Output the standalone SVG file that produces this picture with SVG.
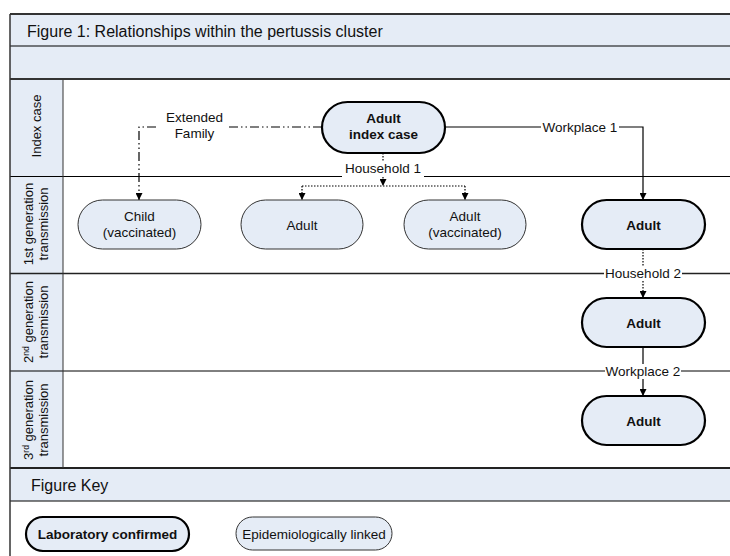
<svg xmlns="http://www.w3.org/2000/svg" width="730" height="556" viewBox="0 0 730 556">
<defs>
<marker id="arr" viewBox="0 0 10 10" refX="10" refY="5" markerWidth="7" markerHeight="7" markerUnits="userSpaceOnUse" orient="auto">
<path d="M0,0 L10,5 L0,10 Z" fill="#000"/>
</marker>
<style>
text{font-family:"Liberation Sans",Arial,sans-serif;fill:#111;}
.band{fill:#E5ECF6;}
.conf rect{fill:#E5ECF6;stroke:#000;stroke-width:2.2;}
.epi rect{fill:#E5ECF6;stroke:#333;stroke-width:1;}
.conf text{font-size:13.5px;font-weight:bold;text-anchor:middle;}
.epi text{font-size:13.5px;text-anchor:middle;}
.lane{font-size:13px;text-anchor:middle;}
.conn{fill:none;stroke:#000;stroke-width:1.2;}
.dot{stroke-dasharray:1.5,1.5;}
.dashdot{stroke-dasharray:9,3,1.5,3,1.5,3;}
.elabel{font-size:13.5px;text-anchor:middle;}
</style>
</defs>
<g id="frame">
<rect class="band" x="10" y="14" width="720" height="65"/>
<rect class="band" x="10" y="79" width="53" height="389"/>
<rect class="band" x="10" y="468" width="720" height="33"/>
<line x1="10" y1="46" x2="730" y2="46" stroke="#000" stroke-width="1"/>
<line x1="10" y1="14" x2="730" y2="14" stroke="#333" stroke-width="2"/>
<line x1="10" y1="79" x2="730" y2="79" stroke="#333" stroke-width="2"/>
<line x1="10" y1="176.5" x2="730" y2="176.5" stroke="#000" stroke-width="1"/>
<line x1="10" y1="273.5" x2="730" y2="273.5" stroke="#222" stroke-width="1.5"/>
<line x1="10" y1="371" x2="730" y2="371" stroke="#000" stroke-width="1"/>
<line x1="10" y1="468" x2="730" y2="468" stroke="#222" stroke-width="2"/>
<line x1="10" y1="501" x2="730" y2="501" stroke="#000" stroke-width="1"/>
<line x1="63" y1="79" x2="63" y2="468" stroke="#333" stroke-width="1"/>
<line x1="10" y1="14" x2="10" y2="556" stroke="#333" stroke-width="1.5"/>
<text x="27" y="36.5" font-size="16">Figure 1: Relationships within the pertussis cluster</text>
<text x="31" y="490.5" font-size="16">Figure Key</text>
<text class="lane" transform="translate(41,126) rotate(-90)">Index case</text>
<text class="lane" transform="translate(33,224) rotate(-90)">1st generation</text>
<text class="lane" transform="translate(47.5,224) rotate(-90)">transmission</text>
<text class="lane" transform="translate(33,322) rotate(-90)">2<tspan font-size="8.5" dy="-4.5">nd</tspan><tspan dy="4.5"> generation</tspan></text>
<text class="lane" transform="translate(47.5,322) rotate(-90)">transmission</text>
<text class="lane" transform="translate(33,420) rotate(-90)">3<tspan font-size="8.5" dy="-4.5">rd</tspan><tspan dy="4.5"> generation</tspan></text>
<text class="lane" transform="translate(47.5,420) rotate(-90)">transmission</text>
</g>
<g id="connectors">
<!-- Workplace 1 -->
<path class="conn" d="M445,127 H541 M619,127 H643 V200" marker-end="url(#arr)"/>
<text class="elabel" x="580" y="132">Workplace 1</text>
<!-- Extended family -->
<path class="conn dashdot" d="M322,127 H226 M156,127 H139 V200" marker-end="url(#arr)"/>
<text class="elabel" x="194.5" y="122">Extended</text>
<text class="elabel" x="194.5" y="138">Family</text>
<!-- Household 1 -->
<rect x="342" y="162" width="82" height="14" fill="#fff"/>
<rect x="342" y="176" width="82" height="2" fill="#fff"/>
<path class="conn dot" d="M383,153 V161"/>
<text class="elabel" x="383" y="173">Household 1</text>
<path class="conn dot" d="M383,177 V186" marker-end="url(#arr)"/>
<path class="conn dot" d="M302,186 H465"/>
<path class="conn dot" d="M302,186 V200" marker-end="url(#arr)"/>
<path class="conn dot" d="M465,186 V200" marker-end="url(#arr)"/>
<!-- Household 2 -->
<rect x="604" y="265" width="78" height="16" fill="#fff"/>
<path class="conn dot" d="M643,249 V266 M643,281 V298" marker-end="url(#arr)"/>
<text class="elabel" x="643" y="278">Household 2</text>
<!-- Workplace 2 -->
<rect x="605" y="363" width="76" height="16" fill="#fff"/>
<path class="conn" d="M643,347 V364 M643,379 V396" marker-end="url(#arr)"/>
<text class="elabel" x="643" y="376">Workplace 2</text>
</g>
<g id="index-case" class="conf">
<rect x="322" y="102" width="123" height="51" rx="25.5"/>
<text x="383.5" y="123">Adult</text>
<text x="383.5" y="139">index case</text>
</g>
<g id="child-vaccinated" class="epi">
<rect x="78" y="200" width="123" height="49" rx="24.5"/>
<text x="139.5" y="221">Child</text>
<text x="139.5" y="237">(vaccinated)</text>
</g>
<g id="adult-1" class="epi">
<rect x="241" y="200" width="122" height="49" rx="24.5"/>
<text x="302" y="229.5">Adult</text>
</g>
<g id="adult-vaccinated" class="epi">
<rect x="404" y="200" width="122" height="49" rx="24.5"/>
<text x="465" y="221">Adult</text>
<text x="465" y="237">(vaccinated)</text>
</g>
<g id="adult-gen1" class="conf">
<rect x="582" y="200" width="123" height="49" rx="24.5"/>
<text x="643.5" y="229.5">Adult</text>
</g>
<g id="adult-gen2" class="conf">
<rect x="582" y="298" width="123" height="49" rx="24.5"/>
<text x="643.5" y="327.5">Adult</text>
</g>
<g id="adult-gen3" class="conf">
<rect x="582" y="396" width="123" height="49" rx="24.5"/>
<text x="643.5" y="425.5">Adult</text>
</g>
<g id="key-lab" class="conf">
<rect x="26" y="517" width="163" height="34" rx="17"/>
<text x="107.5" y="539">Laboratory confirmed</text>
</g>
<g id="key-epi" class="epi">
<rect x="236" y="517" width="156" height="33" rx="16.5"/>
<text x="314" y="539">Epidemiologically linked</text>
</g>
</svg>
